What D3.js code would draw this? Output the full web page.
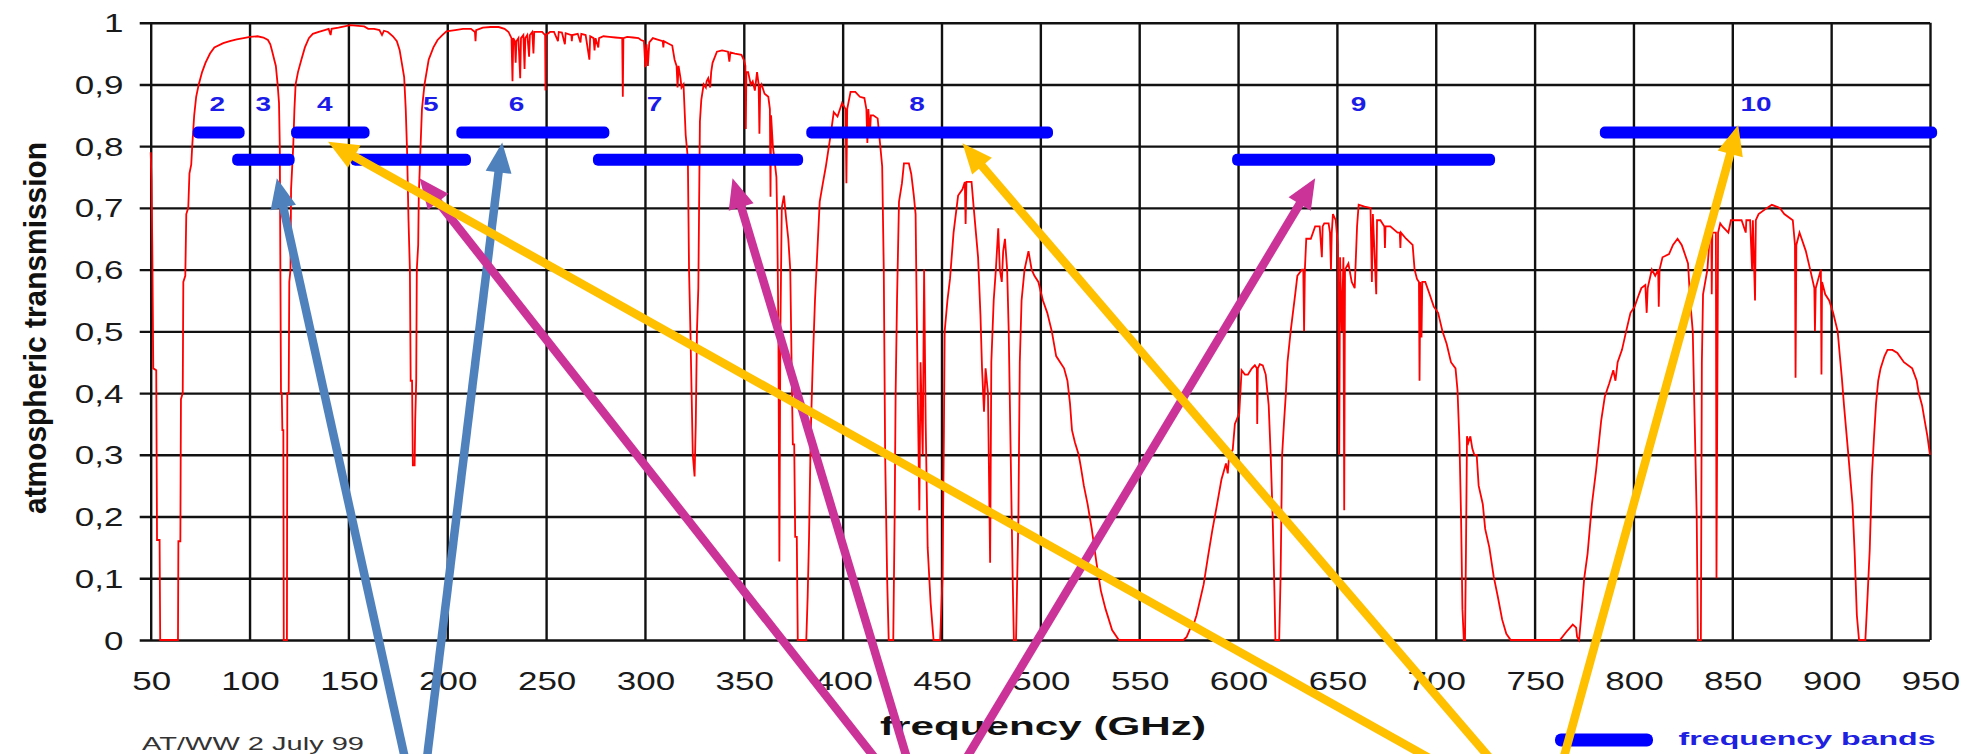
<!DOCTYPE html>
<html><head><meta charset="utf-8">
<script src="https://cdn.jsdelivr.net/npm/d3@7"></script>
<style>html,body{margin:0;padding:0;background:#fff;}svg{display:block;}</style>
</head><body>
<svg id="chart" width="1967" height="754"></svg>
<script>
// ---------------- data ----------------
const xTicks = [50,100,150,200,250,300,350,400,450,500,550,600,650,700,750,800,850,900,950];
const yTicks = [0,0.1,0.2,0.3,0.4,0.5,0.6,0.7,0.8,0.9,1];
const yTickLabels = ["0","0,1","0,2","0,3","0,4","0,5","0,6","0,7","0,8","0,9","1"];

// atmospheric transmission: [frequency GHz, transmission]
const transmissionCurve = [
[50,0.79],[50.4,0.745],[50.8,0.64],[51.3,0.44],[52.8,0.437],[53.2,0.162],[54.5,0.162],[54.8,0],[63.8,0],[64,0.16],[65,0.16],[65.3,0.39],[66.2,0.40],[66.5,0.58],[67.5,0.59],[68,0.69],[69,0.7],[69.6,0.756],[70.5,0.77],[71,0.8],[72,0.85],[73,0.88],[74.3,0.9],[76,0.92],[77.7,0.935],[80,0.95],[82.2,0.96],[86.7,0.967],[90,0.97],[93.5,0.973],[97,0.975],[100.2,0.977],[104,0.978],[107,0.976],[109.3,0.972],[110.5,0.965],[111.5,0.953],[112.5,0.94],[113.3,0.93],[114.2,0.9],[114.9,0.87],[115.3,0.8],[115.6,0.6],[115.9,0.4],[116.3,0.4],[116.6,0.34],[117.1,0.34],[117.3,0],[118.9,0],[119.1,0.4],[119.8,0.4],[120.1,0.58],[120.7,0.6],[121,0.73],[122.1,0.8],[122.7,0.86],[123.3,0.9],[124.5,0.92],[126.2,0.94],[128,0.96],[130,0.975],[132,0.982],[135,0.985],[138,0.988],[140,0.99],[141,0.98],[141.5,0.99],[145,0.992],[148,0.994],[151,0.996],[155,0.995],[158,0.994],[160,0.99],[163,0.99],[165.7,0.988],[167,0.98],[168,0.987],[170,0.985],[172.5,0.978],[174.5,0.97],[175.9,0.956],[177,0.935],[178.2,0.912],[179,0.86],[179.7,0.79],[180.4,0.68],[181.1,0.6],[181.5,0.42],[182.2,0.42],[182.6,0.283],[183.5,0.283],[183.8,0.356],[184.3,0.42],[184.6,0.6],[185.3,0.64],[185.6,0.72],[186.5,0.8],[187.2,0.86],[188.5,0.9],[190.6,0.94],[193,0.96],[195.1,0.972],[197.5,0.98],[199.6,0.986],[204,0.988],[208,0.99],[212,0.99],[214,0.985],[214.3,0.97],[214.6,0.988],[218,0.992],[222,0.993],[226,0.993],[229,0.99],[231,0.985],
[232.5,0.975],[233,0.905],[233.4,0.975],[234.2,0.97],[234.6,0.935],[235,0.97],[236,0.975],[236.9,0.91],[237.3,0.975],[238.5,0.98],[239.1,0.925],[239.5,0.975],[240.5,0.98],[241.4,0.945],[241.8,0.98],[243,0.985],[243.6,0.95],[244,0.985],[246,0.985],[248,0.985],[249.5,0.98],[249.7,0.89],[249.9,0.98],[252,0.985],[254,0.985],[256,0.97],[256.4,0.985],[258,0.984],[259.5,0.965],[259.9,0.983],[262.8,0.98],[263,0.97],[263.3,0.98],[266,0.982],[267.4,0.968],[267.8,0.982],[270,0.98],[271.9,0.94],[272.3,0.978],[274,0.975],[274.5,0.955],[275,0.975],[276.4,0.96],[276.8,0.975],[279,0.978],[282,0.977],[285,0.976],[288.5,0.975],[288.8,0.88],[289.1,0.975],[291,0.977],[294,0.976],[296.7,0.975],[298,0.972],[299.5,0.97],[300.2,0.928],[300.8,0.965],[301.5,0.93],[302.2,0.968],[304,0.975],[306,0.973],[309,0.97],[309.3,0.96],[309.6,0.97],[312,0.966],[313.8,0.963],[315,0.94],[316,0.93],[316.5,0.895],[317,0.93],[318,0.91],[318.5,0.895],[319.5,0.9],[320.6,0.818],[321.7,0.78],[322.3,0.6],[323,0.5],[323.6,0.4],[324.2,0.3],[325.1,0.265],[325.7,0.35],[326.3,0.5],[327,0.57],[327.5,0.74],[327.8,0.84],[328.5,0.875],[329.7,0.9],[330.8,0.895],[331.2,0.905],[332,0.91],[333,0.895],[333.5,0.92],[334.2,0.935],[336.4,0.953],[339,0.955],[342,0.953],[342.7,0.937],[343.2,0.952],[345.5,0.95],[348.8,0.948],[350,0.94],[350.8,0.93],[351,0.828],[351.3,0.92],[352.2,0.92],[353.5,0.9],[354.5,0.905],[355.6,0.89],[356.7,0.92],[357.5,0.9],[357.9,0.82],[358.3,0.895],[359,0.9],[360.5,0.885],[362.4,0.88],[363.2,0.86],[363.5,0.718],[363.8,0.85],[364.7,0.8],[365.8,0.77],[366.5,0.75],[366.9,0.68],[367.5,0.5],[368,0.127],[368.5,0.5],[369.2,0.7],[370.3,0.72],[371.5,0.68],[372.5,0.65],[373.5,0.6],[374.3,0.42],[374.8,0.317],[375.5,0.317],[376,0.167],[376.8,0.167],[377.3,0],[381.6,0],[382.3,0.07],[383,0.167],[383.9,0.34],[384.8,0.44],[386,0.55],[387.5,0.65],[388.4,0.71],[390,0.74],[391.5,0.767],[394,0.82],[395.5,0.855],[397.4,0.848],[399.7,0.87],[401.5,0.86],[401.9,0.74],[402.3,0.86],[404,0.888],[406.4,0.888],[408.7,0.88],[411,0.878],[412,0.86],[412.5,0.805],[413,0.86],[413.8,0.82],[414.3,0.85],[415.5,0.85],[417.7,0.845],[418.9,0.805],[420,0.767],[420.8,0.6],[421.5,0.3],[422.5,0.1],[423.3,0],[425.6,0],[426.3,0.2],[426.8,0.4],[427.5,0.55],[428.5,0.71],[430,0.74],[431,0.772],[433.5,0.772],[434.7,0.755],[436,0.72],[436.9,0.69],[437.4,0.55],[438,0.4],[438.8,0.21],[439.4,0.45],[440.5,0.3],[441.2,0.6],[442,0.35],[443,0.15],[444.5,0.06],[446,0],[449.3,0],[450.5,0.1],[451.2,0.33],[451.6,0.5],[453,0.55],[454.3,0.585],[456.1,0.66],[458.4,0.72],[460.6,0.73],[461.8,0.742],[462.2,0.674],[462.6,0.742],[465.2,0.742],[466.3,0.7],[468.5,0.62],[469.7,0.527],[470.5,0.44],[471.5,0.37],[472.3,0.44],[473.5,0.4],[474.6,0.125],[475.2,0.45],[476.4,0.55],[477.5,0.6],[478.7,0.667],[479.5,0.6],[480.5,0.58],[481.2,0.63],[482.1,0.65],[483.2,0.6],[484,0.5],[485,0.3],[486,0.1],[486.6,0],[487.7,0],[488.9,0.2],[489.6,0.45],[490.5,0.55],[492,0.6],[494,0.63],[495.6,0.6],[497,0.59],[499,0.58],[501.3,0.55],[503.5,0.53],[505.8,0.5],[508,0.46],[510,0.45],[512,0.44],[513.7,0.42],[515,0.383],[516,0.34],[517.5,0.32],[519.4,0.3],[520.5,0.28],[522,0.25],[523.9,0.22],[526,0.18],[528.4,0.125],[530.6,0.08],[533,0.05],[536.3,0.016],[539.7,0],[572.4,0],[574,0.005],[576,0.02],[577,0.02],[579,0.04],[582.6,0.09],[584.8,0.135],[587,0.178],[589.4,0.22],[591.6,0.26],[593.9,0.286],[594.8,0.27],[595.5,0.3],[597.3,0.308],[598.4,0.35],[600.6,0.367],[601.8,0.437],[603.5,0.43],[605,0.43],[607,0.44],[608.5,0.445],[609.5,0.44],[609.7,0.35],[610,0.44],[611,0.447],[612.5,0.445],[614,0.43],[615.5,0.38],[616.5,0.3],[617.5,0.2],[618.4,0.08],[618.9,0],[620.8,0],[621.5,0.1],[622.3,0.3],[623.2,0.35],[624.2,0.4],[625,0.45],[626.6,0.5],[628.9,0.56],[630,0.59],[632.3,0.6],[633,0.6],[633.4,0.5],[633.8,0.6],[634.5,0.65],[636.8,0.65],[639,0.67],[641.3,0.67],[642.4,0.62],[642.8,0.67],[643.6,0.675],[645.8,0.675],[646.5,0.66],[647,0.6],[647.4,0.66],[648,0.69],[649.4,0.68],[650.5,0.64],[651.2,0.3],[651.6,0.62],[652.5,0.5],[653.3,0.62],[653.7,0.21],[654.1,0.6],[655.8,0.61],[657.5,0.58],[659,0.57],[660.2,0.67],[661,0.705],[664,0.702],[667,0.7],[667.7,0.58],[668.2,0.69],[669.9,0.56],[670.3,0.68],[672,0.68],[674,0.67],[674.3,0.635],[674.6,0.67],[677,0.67],[680.7,0.66],[681.8,0.66],[682.1,0.635],[682.4,0.66],[685,0.65],[688.3,0.64],[689.3,0.6],[690.5,0.585],[691.5,0.58],[691.8,0.42],[692.2,0.58],[692.8,0.49],[693.2,0.58],[694.7,0.58],[696.9,0.56],[699,0.54],[701.2,0.53],[703.4,0.5],[705.5,0.48],[707.7,0.45],[710,0.44],[711,0.405],[712,0.32],[712.8,0.2],[713.5,0.05],[714.2,0],[714.8,0],[715.3,0.15],[715.8,0.33],[716.5,0.32],[717.5,0.33],[718.5,0.31],[719.5,0.3],[720.7,0.3],[721.7,0.25],[723.8,0.22],[725,0.18],[727.1,0.15],[729.3,0.103],[731.4,0.07],[733.6,0.033],[735.7,0.01],[737.9,0],[762.8,0],[766,0.013],[769.3,0.025],[771,0.02],[771.5,0.005],[772.5,0],[773.6,0.04],[775.1,0.1],[776.8,0.14],[777.9,0.18],[779,0.22],[781.1,0.275],[782.2,0.31],[783.7,0.356],[785.5,0.394],[787.7,0.415],[789.8,0.437],[790.9,0.42],[792,0.45],[794.2,0.47],[796.3,0.5],[798.5,0.53],[800.6,0.54],[802.8,0.56],[804,0.57],[806,0.575],[806.7,0.53],[807.2,0.57],[809.3,0.6],[811,0.59],[812.5,0.6],[812.8,0.54],[813.2,0.6],[814.7,0.62],[818,0.625],[820,0.64],[822.3,0.65],[824.4,0.64],[825.5,0.63],[827.6,0.61],[828.7,0.55],[830,0.5],[831,0.35],[832,0.2],[832.6,0],[834.1,0],[834.6,0.45],[835.2,0.56],[837.4,0.6],[838.5,0.65],[839.4,0.66],[839.6,0.56],[839.9,0.66],[841.7,0.66],[842,0.1],[842.8,0.66],[843.9,0.675],[845,0.67],[848,0.66],[849.3,0.68],[852.5,0.68],[854.7,0.68],[856.8,0.66],[857.1,0.68],[859,0.68],[860,0.6],[860.4,0.68],[861.5,0.55],[861.9,0.68],[863.3,0.69],[867.6,0.7],[870,0.705],[874,0.7],[876.3,0.69],[880.6,0.68],[881.7,0.64],[882,0.425],[882.4,0.64],[884,0.66],[887.2,0.63],[889.4,0.6],[891.5,0.57],[891.8,0.5],[892.2,0.57],[894.8,0.6],[895.1,0.43],[895.4,0.58],[897,0.56],[899,0.55],[901,0.53],[903.3,0.5],[904.4,0.46],[905.4,0.425],[906.5,0.38],[907.6,0.34],[908.7,0.3],[910.8,0.22],[911.9,0.14],[913,0.04],[914.1,0],[917.3,0],[918.4,0.07],[919.5,0.145],[920.6,0.265],[921.7,0.33],[922.7,0.383],[923.8,0.42],[925,0.44],[927,0.46],[928.5,0.47],[931,0.47],[933.5,0.465],[936.8,0.45],[941,0.44],[943.3,0.42],[944.3,0.4],[946,0.38],[947.6,0.35],[948.7,0.33],[950,0.3]
];

// ALMA frequency bands (visible extent of the bar, GHz) and bar level
const bandNames  = ["2","3","4","5","6","7","8","9","10"];
const bandStart  = [71.3, 91.2, 121, 151, 204.6, 273.7, 381.6, 597, 783];
const bandEnd    = [97.5, 122.8, 160.7, 212, 282, 380, 506.4, 730, 953.6];
const bandLevel  = [0.822, 0.778, 0.822, 0.778, 0.822, 0.778, 0.822, 0.778, 0.822];
const bandLabelFreq = [83.7, 107, 138, 191.7, 235, 304.8, 437.6, 661, 862];
const bandLabelLevel = 0.857;

// annotation arrows: tip and tail in data units (freq, transmission)
const arrowColor = ["#4f81bd","#4f81bd","#cc3399","#cc3399","#cc3399","#ffc000","#ffc000","#ffc000"];
const arrowTip   = [[113.8,0.748],[227.8,0.806],[186,0.748],[344.3,0.748],[639,0.748],[139.7,0.807],[460.6,0.8046],[853,0.8343]];
const arrowTail  = [[179.9,-0.2106],[189,-0.2106],[421.1,-0.2106],[434.3,-0.2106],[459,-0.2106],[707.5,-0.2106],[732.5,-0.2106],[763,-0.2106]];

// ---------------- drawing ----------------
const svg = d3.select("#chart");
const x = d3.scaleLinear().domain([50,950]).range([150.7,1930]);
const y = d3.scaleLinear().domain([0,1]).range([640,22.7]);
const SX = 1.4; // horizontal stretch of the original picture's lettering
const FONT = "'Liberation Sans', Arial, Helvetica, sans-serif";

svg.append("rect").attr("width",1967).attr("height",754).attr("fill","#fff");

// grid via axes
const gridY = svg.append("g").attr("transform",`translate(${x(50)},0)`)
  .call(d3.axisLeft(y).tickValues(yTicks).tickSize(-(x(950)-x(50))).tickFormat(""));
gridY.select(".domain").remove();
gridY.selectAll(".tick line").attr("x1",-11).attr("stroke","#111").attr("stroke-width",2.4);

const gridX = svg.append("g").attr("transform",`translate(0,${y(0)})`)
  .call(d3.axisBottom(x).tickValues(xTicks).tickSize(-(y(0)-y(1))).tickFormat(""));
gridX.select(".domain").remove();
gridX.selectAll(".tick line").attr("stroke","#111").attr("stroke-width",2.4);

// tick labels (stretched like the original)
function sText(parent, px, py, txt, o){
  const g = parent.append("g").attr("transform",`translate(${px},${py}) scale(${o.sx||SX},1)`);
  const t = g.append("text").text(txt)
    .attr("font-family",FONT).attr("font-size",o.size).attr("font-weight",o.weight||"normal")
    .attr("fill",o.fill||"#1a1a1a").attr("text-anchor",o.anchor||"middle");
  if (o.len) t.attr("textLength",o.len/(o.sx||SX)).attr("lengthAdjust","spacingAndGlyphs");
  return g;
}
yTicks.forEach((v,i)=> sText(svg, 123.5, y(v)+9.5, yTickLabels[i], {size:25, anchor:"end"}));
xTicks.forEach(v=> sText(svg, x(v)+1, 690, String(v), {size:25}));

// transmission curve
const line = d3.line().x(d=>x(d[0])).y(d=>y(d[1]));
svg.append("path").datum(transmissionCurve).attr("d",line)
  .attr("fill","none").attr("stroke","#ff0000").attr("stroke-width",1.8).attr("stroke-linejoin","miter");

// band bars
const barH = 12;
bandNames.forEach((b,i)=>{
  svg.append("rect")
    .attr("x",x(bandStart[i])).attr("width",x(bandEnd[i])-x(bandStart[i]))
    .attr("y",y(bandLevel[i])-barH/2).attr("height",barH).attr("rx",5)
    .attr("fill","#0000ff");
  sText(svg, x(bandLabelFreq[i]), y(bandLabelLevel), b, {size:20, weight:"bold", fill:"#1c1ce8"});
});

// axis titles & notes
const yl = svg.append("g").attr("transform",`translate(46,328) scale(1.3,1) rotate(-90)`);
yl.append("text").text("atmospheric transmission").attr("text-anchor","middle")
  .attr("font-family",FONT).attr("font-size",24).attr("font-weight","bold").attr("fill","#111")
  .attr("textLength",372).attr("lengthAdjust","spacingAndGlyphs");

sText(svg, 1043, 735, "frequency (GHz)", {size:25.5, weight:"bold", fill:"#111", len:326});
sText(svg, 142, 749.5, "AT/WW 2 July 99", {size:18, anchor:"start", fill:"#333", len:222});

// legend
svg.append("rect").attr("x",1555).attr("y",740-6.5).attr("width",98).attr("height",13).attr("rx",6).attr("fill","#0000ff");
sText(svg, 1678.6, 745, "frequency bands", {size:18, weight:"bold", anchor:"start", fill:"#2020e0", len:257});

// arrows
const headLen = 30, headHalf = 13, lw = 8.5;
arrowTip.forEach((tp,i)=>{
  const tx = x(tp[0]), ty = y(tp[1]);
  const sx = x(arrowTail[i][0]), sy = y(arrowTail[i][1]);
  const dx = tx-sx, dy = ty-sy, L = Math.hypot(dx,dy), ux = dx/L, uy = dy/L;
  const bx = tx-ux*headLen, by = ty-uy*headLen;
  svg.append("line").attr("x1",sx).attr("y1",sy).attr("x2",bx+ux*2).attr("y2",by+uy*2)
    .attr("stroke",arrowColor[i]).attr("stroke-width",lw);
  svg.append("polygon")
    .attr("points",[[tx,ty],[bx-uy*headHalf,by+ux*headHalf],[bx+uy*headHalf,by-ux*headHalf]].map(p=>p.join(",")).join(" "))
    .attr("fill",arrowColor[i]);
});
</script>
</body></html>
